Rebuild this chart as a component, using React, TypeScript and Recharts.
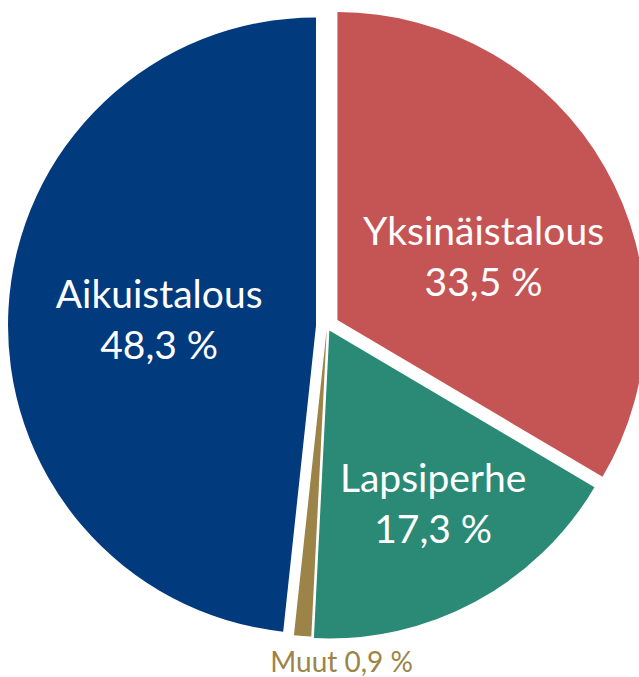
import { PieChart, Pie, Cell } from 'recharts';

const categories = ['Yksinäistalous', 'Lapsiperhe', 'Muut', 'Aikuistalous'];
const shares = [33.5, 17.3, 0.9, 48.3];

const COLORS = ['#C55455', '#2A8A76', '#9C8448', '#023A7E'];
// how far each slice is pulled out from the centre, px
const EXPLODE = [12, 5, 3, 11];
// label distance from slice apex (fraction of radius) and small nudges
const LABEL_POS = [0.52, 0.65, 1.08, 0.51];
const LABEL_NUDGE = [
  [7, 16],
  [9, -3],
  [41, 0],
  [0, 3],
];

const W = 639;
const H = 677;
const CX = 327;
const CY = 326;
const R = 308;
const RAD = Math.PI / 180;

const data = categories.map((name, i) => ({ name, value: shares[i] }));
const total = shares.reduce((a, b) => a + b, 0);

// mid angle of each slice, clockwise from 12 o'clock (degrees)
const midAngles = shares.map((v, i) => {
  const before = shares.slice(0, i).reduce((a, b) => a + b, 0);
  return ((before + v / 2) / total) * 360;
});

const fmt = (v: number) => v.toFixed(1).replace('.', ',') + ' %';

function makeLabel(own: number) {
  return (props: any) => {
    if (props.index !== own) return <g />;
    const r = R * LABEL_POS[own];
    const a = -props.midAngle * RAD;
    const x = props.cx + r * Math.cos(a) + LABEL_NUDGE[own][0];
    const y = props.cy + r * Math.sin(a) + LABEL_NUDGE[own][1];
    if (own === 2) {
      return (
        <text x={x} y={y} textAnchor="middle" dominantBaseline="central" fill={COLORS[2]} fontSize={28}>
          {`${categories[own]} ${fmt(shares[own])}`}
        </text>
      );
    }
    return (
      <text x={x} textAnchor="middle" fill="#FFFFFF" fontSize={39}>
        <tspan x={x} y={y - 12}>{categories[own]}</tspan>
        <tspan x={x} y={y + 39}>{fmt(shares[own])}</tspan>
      </text>
    );
  };
}

export default function App() {
  return (
    <div style={{ width: W, height: H, fontFamily: 'Lato, "Open Sans", sans-serif' }}>
      <style>{'html, body { margin: 0; padding: 0; overflow: hidden; }'}</style>
      <PieChart width={W} height={H} margin={{ top: 0, right: 0, bottom: 0, left: 0 }}>
        {shares.map((_, own) => {
          const m = midAngles[own] * RAD;
          return (
            <Pie
              key={own}
              data={data}
              dataKey="value"
              nameKey="name"
              cx={CX + EXPLODE[own] * Math.sin(m)}
              cy={CY - EXPLODE[own] * Math.cos(m)}
              outerRadius={R}
              startAngle={90}
              endAngle={-270}
              stroke="none"
              labelLine={false}
              label={makeLabel(own)}
              isAnimationActive={false}
            >
              {data.map((_, idx) => (
                <Cell key={idx} fill={idx === own ? COLORS[idx] : 'transparent'} />
              ))}
            </Pie>
          );
        })}
      </PieChart>
    </div>
  );
}
